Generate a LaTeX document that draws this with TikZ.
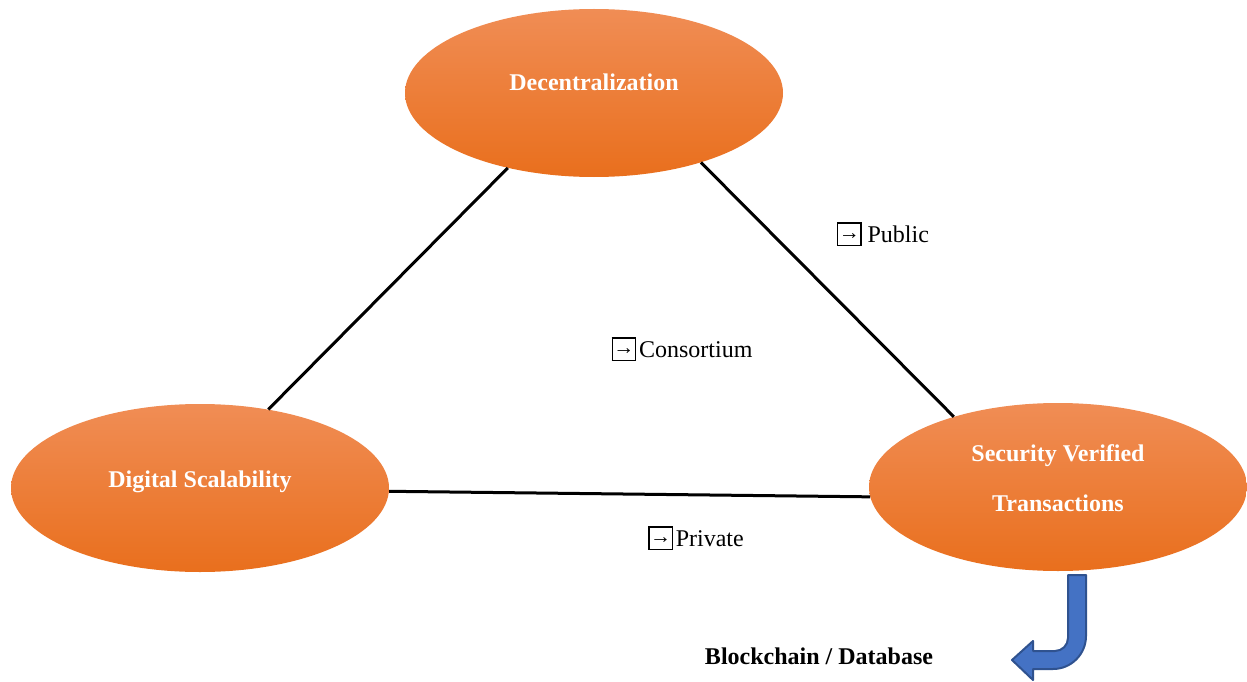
\documentclass[tikz,border=0pt]{standalone}
\usepackage{fontspec}
\setmainfont{Liberation Serif}
\usetikzlibrary{shapes.geometric}

\definecolor{blobtop}{HTML}{F08D55}
\definecolor{blobmid}{HTML}{F47B2A}
\definecolor{blobbot}{HTML}{E96F1D}
\definecolor{turnfill}{HTML}{4472C4}
\definecolor{turnedge}{HTML}{2F528F}

\tikzset{
  blob/.style={ellipse, draw=none, inner sep=0pt, minimum width=378pt, minimum height=168pt,
    top color=blobtop, middle color=blobmid, bottom color=blobbot},
  blobtext/.style={anchor=base, inner sep=0pt, text=white, align=center,
    font=\fontsize{24}{50}\selectfont\bfseries},
  tag/.style={anchor=base, inner sep=0pt, font=\fontsize{24}{29}\selectfont},
  link/.style={line width=3pt, black}
}

% small framed arrow in front of the labels
\newcommand{\boxarrow}{{\setlength{\fboxsep}{0pt}\setlength{\fboxrule}{1.3pt}%
  \fbox{\makebox[22pt]{\rule[-3pt]{0pt}{21.5pt}\raisebox{2.5pt}{\fontsize{21}{21}\selectfont →}}}}}

\begin{document}
\begin{tikzpicture}[x=1pt, y=-1pt]

\useasboundingbox ( 0, 0 ) rectangle ( 1247, 682 );

% Ellipses
\node[blob] (dec) at ( 594, 93 ) {};
\node[blob] (dig) at ( 200, 488 ) {};
\node[blob] (sec) at ( 1058, 487 ) {};

% Links
\draw[link] ( dec.221.6 ) -- ( dig.49.8 );
\draw[link] ( dec.-33.4 ) -- ( sec.146.9 );
\draw[link] ( dig.-1 ) -- ( sec.183 );

% Ellipse texts
\node[blobtext] (dectext) at ( 594, 91 ) {Decentralization};
\node[blobtext] (digtext) at ( 200, 487 ) {Digital Scalability};
\node[blobtext] (sectext) at ( 1058, 511 ) {Security Verified\\Transactions};

% Labels
\node[tag] (public) at ( 883, 242 ) {\boxarrow\ Public};
\node[tag] (consortium) at ( 682, 357 ) {\boxarrow\kern3pt Consortium};
\node[tag] (private) at ( 696, 546 ) {\boxarrow\kern3pt Private};
\node[tag, font=\fontsize{24}{29}\selectfont\bfseries] (store) at ( 819, 664 ) {Blockchain / Database};

% Bent arrow
\filldraw[fill=turnfill, draw=turnedge, line width=2pt, line join=round]
  ( 1068, 575 ) -- ( 1086, 575 ) -- ( 1086, 636 ) arc ( 0:90:33 )
  -- ( 1033, 669 ) -- ( 1033, 680 ) -- ( 1012, 660 ) -- ( 1033, 641 )
  -- ( 1033, 651 ) -- ( 1055, 651 ) arc ( 90:0:13 ) -- cycle;

\end{tikzpicture}
\end{document}
